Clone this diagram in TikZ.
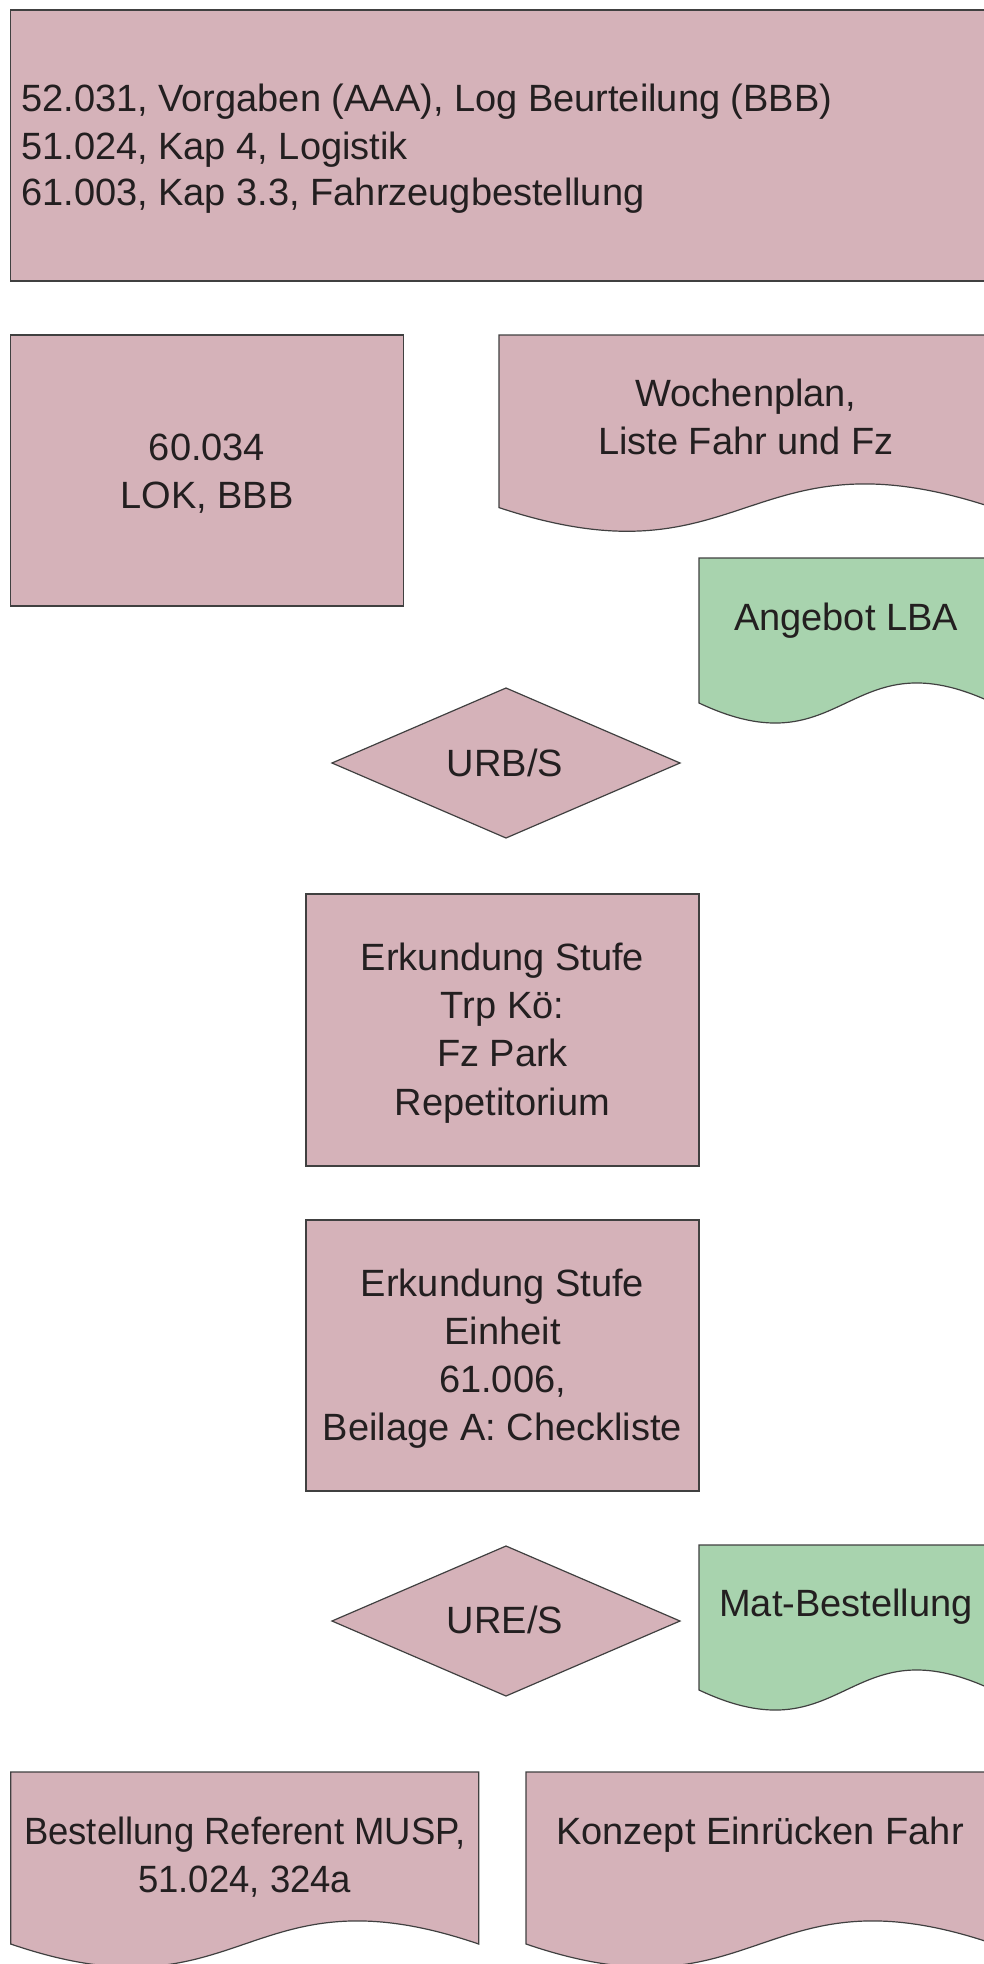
\documentclass[tikz,border=0pt]{standalone}
\usepackage{fontspec}
\setmainfont{Liberation Sans}
\definecolor{pinkfill}{HTML}{D5B2B9}
\definecolor{greenfill}{HTML}{A8D3AE}
\definecolor{edge}{HTML}{404040}
\definecolor{ink}{HTML}{231F20}
\begin{document}
\begin{tikzpicture}[x=1pt,y=-1pt,
  shapebox/.style={draw=edge,line width=1.2pt,fill=pinkfill},
  greenbox/.style={draw=edge,line width=1.2pt,fill=greenfill},
  lbl/.style={inner sep=0pt,anchor=base,align=center,text=ink,font=\fontsize{38}{48}\selectfont}]
\useasboundingbox (0,0) rectangle (984,1964);
\clip (0,0) rectangle (984,1964);
% top box
\draw[shapebox] (10.7,10) rectangle (1010,281);
\node[lbl,anchor=base west,align=left,font=\fontsize{38}{47}\selectfont] (top) at (21,206)
  {52.031, Vorgaben (AAA), Log Beurteilung (BBB)\\51.024, Kap 4, Logistik\\61.003, Kap 3.3, Fahrzeugbestellung};
% LOK box
\draw[shapebox] (10.7,335) rectangle (403.6,606);
\node[lbl] (lok) at (207,508) {60.034\\LOK, BBB};
% Wochenplan document (x0=499, W=494, top 335, yb 507.6)
\draw[shapebox] (499,335) -- (993,335) -- (993,507.6)
  .. controls (746,425.6) and (746,589.6) .. (499,507.6) -- cycle;
\node[lbl] (woch) at (746,454.5) {Wochenplan,\\Liste Fahr und Fz};
% Angebot LBA (x0=699, W=294, top 558, yb 703)
\draw[greenbox] (699,558) -- (993,558) -- (993,703)
  .. controls (846,633.6) and (846,772.4) .. (699,703) -- cycle;
\node[lbl] (lba) at (846,630) {Angebot LBA};
% URB/S diamond
\draw[shapebox] (332,763) -- (506,688) -- (680,763) -- (506,838) -- cycle;
\node[lbl] (urbs) at (505,776) {URB/S};
% Erkundung 1
\draw[shapebox] (306,894) rectangle (699,1166);
\node[lbl,font=\fontsize{38}{48.2}\selectfont] (erk1) at (502.5,1115) {Erkundung Stufe\\Trp Kö:\\Fz Park\\Repetitorium};
% Erkundung 2
\draw[shapebox] (306,1220) rectangle (699,1491);
\node[lbl] (erk2) at (502.5,1440) {Erkundung Stufe\\Einheit\\61.006,\\Beilage A: Checkliste};
% URE/S diamond
\draw[shapebox] (332,1621) -- (506,1546) -- (680,1621) -- (506,1696) -- cycle;
\node[lbl] (ures) at (505,1633) {URE/S};
% Mat-Bestellung (x0=699, W=294, top 1545, yb 1690)
\draw[greenbox] (699,1545) -- (993,1545) -- (993,1690)
  .. controls (846,1620.6) and (846,1759.4) .. (699,1690) -- cycle;
\node[lbl] (mat) at (846,1616) {Mat-Bestellung};
% Bestellung (x0=10.7, W=468, top 1772, yb 1944)
\draw[shapebox] (10.7,1772) -- (478.7,1772) -- (478.7,1944)
  .. controls (244.7,1864) and (244.7,2024) .. (10.7,1944) -- cycle;
\node[lbl] (best) at (244.7,1892) {\scalebox{0.96}[1]{Bestellung Referent MUSP,}\\\scalebox{0.96}[1]{51.024, 324a}};
% Konzept (x0=526, W=468, top 1772, yb 1944)
\draw[shapebox] (526,1772) -- (994,1772) -- (994,1944)
  .. controls (760,1864) and (760,2024) .. (526,1944) -- cycle;
\node[lbl] (konz) at (760,1844) {Konzept Einrücken Fahr};
\end{tikzpicture}
\end{document}
